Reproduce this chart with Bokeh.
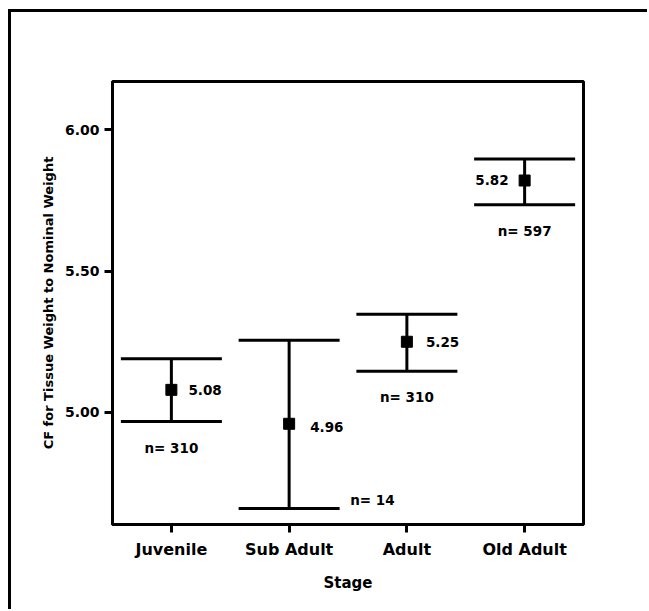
from bokeh.plotting import figure
from bokeh.models import (FactorRange, Range1d, FixedTicker, Whisker, TeeHead,
                          ColumnDataSource, NumeralTickFormatter)
from bokeh.embed import file_html
from bokeh.resources import INLINE
from bokeh.core.properties import value

# ---- data ----
stages = ["Juvenile", "Sub Adult", "Adult", "Old Adult"]
means = [5.08, 4.96, 5.25, 5.82]
upper = [5.19, 5.255, 5.347, 5.896]
lower = [4.968, 4.661, 5.146, 5.734]
counts = [310, 14, 310, 597]
y_ticks = [5.00, 5.50, 6.00]
y_title = "CF for Tissue Weight to Nominal Weight"
x_title = "Stage"

# ---- label placement (layout only): (x_offset, y_offset, align) ----
mean_label_place = [(17, 0, "left"), (21, 3, "left"), (19, 0, "left"), (-16, -1, "right")]
n_label_place = [(0, 26, "center"), (61, -8, "left"), (0, 26, "center"), (0, 26, "center")]

FONT = "DejaVu Sans"

p = figure(x_range=FactorRange(*stages, range_padding=0),
           y_range=Range1d(4.604, 6.170),
           frame_width=471, frame_height=443,
           min_border_left=101, min_border_top=69,
           min_border_right=64, min_border_bottom=85,
           output_backend="svg", toolbar_location=None)
p.styles = {"border-left": "3px solid black", "border-top": "3px solid black",
            "margin-left": "8px", "margin-top": "9px"}

p.xgrid.visible = False
p.ygrid.visible = False
p.outline_line_color = "black"
p.outline_line_width = 3
p.outline_line_alpha = 1.0
p.background_fill_color = "white"
p.border_fill_color = "white"

# y axis
ya = p.yaxis[0]
ya.ticker = FixedTicker(ticks=y_ticks, minor_ticks=[])
ya.formatter = NumeralTickFormatter(format="0.00")
ya.axis_line_width = 3
ya.major_tick_line_width = 3
ya.major_tick_in = 0
ya.major_tick_out = 8
ya.minor_tick_line_color = None
ya.major_label_standoff = 5
ya.major_label_text_font = FONT
ya.major_label_text_font_style = "bold"
ya.major_label_text_font_size = "14px"
ya.major_label_text_color = "black"
ya.axis_label = y_title
ya.axis_label_text_font = FONT
ya.axis_label_text_font_style = "bold"
ya.axis_label_text_font_size = "13px"
ya.axis_label_text_color = "black"
ya.axis_label_standoff = 6

# x axis
xa = p.xaxis[0]
xa.axis_line_width = 3
xa.major_tick_line_width = 3
xa.major_tick_in = 0
xa.major_tick_out = 8
xa.minor_tick_line_color = None
xa.major_label_standoff = 7
xa.major_label_text_font = FONT
xa.major_label_text_font_style = "bold"
xa.major_label_text_font_size = "16px"
xa.major_label_text_color = "black"
xa.axis_label = x_title
xa.axis_label_text_font = FONT
xa.axis_label_text_font_style = "bold"
xa.axis_label_text_font_size = "15px"
xa.axis_label_text_color = "black"
xa.axis_label_standoff = 12

src = ColumnDataSource(dict(stage=stages, mean=means, upper=upper, lower=lower))

w = Whisker(source=src, base="stage", upper="upper", lower="lower",
            line_width=3, line_color="black",
            upper_head=TeeHead(size=101, line_width=3, line_color="black"),
            lower_head=TeeHead(size=101, line_width=3, line_color="black"))
p.add_layout(w)

p.scatter(x="stage", y="mean", source=src, marker="square", size=11,
          fill_color="black", line_color="black")

for i, s in enumerate(stages):
    dx, dy, al = mean_label_place[i]
    p.text(x=[s], y=[means[i]], text=[f"{means[i]:.2f}"], x_offset=dx, y_offset=dy,
           text_align=al, text_baseline="middle", text_font=value(FONT),
           text_font_style="bold", text_font_size="13.5px", text_color="black")
    dx, dy, al = n_label_place[i]
    p.text(x=[s], y=[lower[i]], text=[f"n= {counts[i]}"], x_offset=dx, y_offset=dy,
           text_align=al, text_baseline="middle", text_font=value(FONT),
           text_font_style="bold", text_font_size="13.5px", text_color="black")

open("out.html", "w").write(file_html(p, INLINE))
